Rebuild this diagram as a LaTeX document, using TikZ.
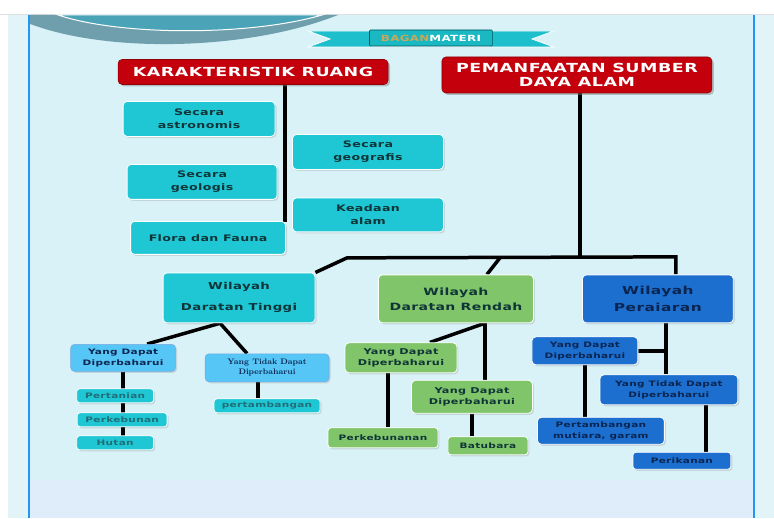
\documentclass[tikz,border=0pt]{standalone}
\usepackage{fontspec}
\newfontfamily\chartfont[FakeStretch=1.4,LetterSpace=4]{DejaVu Sans}
\usetikzlibrary{shadows,backgrounds}
\definecolor{outerbg}{HTML}{E2F4F8}
\definecolor{panelbg}{HTML}{D9F2F7}
\definecolor{bottombg}{HTML}{DFEDFA}
\definecolor{borderblue}{HTML}{2196F3}
\definecolor{chartred}{HTML}{C3000B}
\definecolor{chartcyan}{HTML}{1FC6D3}
\definecolor{chartgreen}{HTML}{80C56A}
\definecolor{chartblue}{HTML}{1C6FCE}
\definecolor{chartsky}{HTML}{56C6F6}
\definecolor{inkteal}{HTML}{103538}
\definecolor{inkblue}{HTML}{0B2550}
\definecolor{leafink}{HTML}{1F6E78}
\definecolor{arcgray}{HTML}{6F9FAC}
\definecolor{arcteal}{HTML}{4AA3B6}
\definecolor{bagangold}{HTML}{C9A85A}
\pgfdeclarelayer{lines}
\pgfsetlayers{background,lines,main}
\tikzset{
  boxsize/.style 2 args={minimum width=#1pt, minimum height=#2pt},
  softshadow/.style={drop shadow={shadow xshift=1.5pt, shadow yshift=-1.5pt, opacity=0.25}}
}

\begin{document}
\begin{tikzpicture}[x=1pt, y=-1pt,
    every node/.style={align=center, inner sep=0pt, rounded corners=4pt},
    redbox/.style={fill=chartred, draw=chartred!75!black, line width=0.6pt, text=white,
      drop shadow={shadow xshift=2pt, shadow yshift=-2pt, opacity=0.45},
      font=\chartfont\bfseries\fontsize{12.5}{14.5}\selectfont},
    cyanbox/.style={fill=chartcyan, draw=white, line width=0.8pt, text=inkteal, softshadow,
      font=\chartfont\bfseries\fontsize{9}{13}\selectfont},
    greenbox/.style={fill=chartgreen, draw=white, line width=0.8pt, text=inkteal, softshadow,
      font=\chartfont\bfseries\fontsize{8}{11}\selectfont},
    bluebox/.style={fill=chartblue, draw=white, line width=0.8pt, text=inkblue, softshadow,
      font=\chartfont\bfseries\fontsize{7.5}{11}\selectfont},
    skybox/.style={fill=chartsky, draw=chartblue!60, line width=0.6pt, text=inkblue, softshadow,
      font=\chartfont\bfseries\fontsize{7.5}{11}\selectfont},
    leaf/.style={font=\chartfont\bfseries\fontsize{7.5}{9}\selectfont, rounded corners=3pt},
    link/.style={line width=3.5pt, black},
]

% backdrop
\begin{pgfonlayer}{background}
\fill[outerbg] (0,0) rectangle (774,518);
\fill[white] (0,0) rectangle (774,14);
\fill[white] (0,14) rectangle (8,518);
\draw[gray!25] (0,14) -- (774,14);
\fill[panelbg] (29,15) rectangle (754,480);
\fill[bottombg] (29,480) rectangle (754,518);
\draw[borderblue, line width=2.5pt] (29,15) -- (29,518);
\draw[borderblue, line width=2.5pt] (754,15) -- (754,518);
% arcs
\fill[arcgray] (30,15) -- (30,24) .. controls (110,54) and (250,50) .. (338,15) -- cycle;
\fill[arcteal, draw=white, line width=1pt] (58,15) .. controls (120,36) and (250,36) .. (322,15) -- cycle;
% ribbon
\fill[chartcyan!90!teal, draw=white, line width=0.8pt] (308,31) -- (372,31) -- (372,47) -- (308,47) -- (330,39) -- cycle;
\fill[chartcyan!90!teal, draw=white, line width=0.8pt] (490,31) -- (554,31) -- (532,39) -- (554,47) -- (490,47) -- cycle;
\end{pgfonlayer}

\node[fill=chartcyan!80!teal, draw=teal!70!black, line width=0.6pt, rounded corners=1pt, boxsize={123}{16},
  font=\chartfont\bfseries\fontsize{8.5}{10}\selectfont] (banner) at (431,38)
  {\textcolor{bagangold}{BAGAN}\textcolor{white}{MATERI}};

% karakteristik ruang
\node[redbox, boxsize={270}{25}] (kr) at (253,72) {KARAKTERISTIK RUANG};
\node[cyanbox, boxsize={152}{35}] (astro) at (199,119) {Secara\\astronomis};
\node[cyanbox, boxsize={151}{35}] (geog) at (368,152) {Secara\\geografis};
\node[cyanbox, boxsize={150}{35}] (geol) at (202,182) {Secara\\geologis};
\node[cyanbox, boxsize={151}{34}] (keadaan) at (368,215) {Keadaan\\alam};
\node[cyanbox, boxsize={155}{33}] (flora) at (208,238) {Flora dan Fauna};

% pemanfaatan sumber daya alam
\node[redbox, boxsize={270}{36}] (psda) at (577,75) {PEMANFAATAN SUMBER\\DAYA ALAM};

% wilayah
\node[cyanbox, boxsize={152}{50}, font=\chartfont\bfseries\fontsize{9.5}{21}\selectfont] (tinggi) at (239,298) {Wilayah\\Daratan Tinggi};
\node[greenbox, boxsize={155}{48}, font=\chartfont\bfseries\fontsize{10}{15}\selectfont] (rendah) at (456,299) {Wilayah\\Daratan Rendah};
\node[bluebox, boxsize={151}{48}, font=\chartfont\bfseries\fontsize{11}{17}\selectfont] (perairan) at (658,299) {Wilayah\\Peraiaran};

% daratan tinggi
\node[skybox, boxsize={105}{27}] (tDapat) at (123,358) {Yang Dapat\\Diperbaharui};
\node[skybox, boxsize={124}{28}, font=\bfseries\fontsize{8}{10}\selectfont] (tTidak) at (267,368) {Yang Tidak Dapat\\Diperbaharui};
\node[cyanbox, leaf, text=leafink, boxsize={106}{14}] (tambangT) at (267,406) {pertambangan};
\node[cyanbox, leaf, text=leafink, boxsize={77}{14}] (pertanian) at (115,396) {Pertanian};
\node[cyanbox, leaf, text=leafink, boxsize={90}{14}] (perkebunan) at (122,420) {Perkebunan};
\node[cyanbox, leaf, text=leafink, boxsize={77}{14}] (hutan) at (115,443) {Hutan};

% daratan rendah
\node[greenbox, boxsize={112}{30}] (rDapatA) at (401,358) {Yang Dapat\\Diperbaharui};
\node[greenbox, boxsize={121}{33}] (rDapatB) at (472,397) {Yang Dapat\\Diperbaharui};
\node[greenbox, leaf, boxsize={110}{20}] (kebunR) at (383,438) {Perkebunanan};
\node[greenbox, leaf, boxsize={80}{18}] (batubara) at (488,446) {Batubara};

% perairan
\node[bluebox, boxsize={106}{28}] (pDapat) at (585,351) {Yang Dapat\\Diperbaharui};
\node[bluebox, boxsize={138}{30}] (pTidak) at (669,390) {Yang Tidak Dapat\\Diperbaharui};
\node[bluebox, boxsize={127}{27}] (mutiara) at (601,431) {Pertambangan\\mutiara, garam};
\node[bluebox, leaf, boxsize={98}{17}] (perikanan) at (682,461) {Perikanan};

% connectors
\coordinate (krEnd) at (285,222);
\coordinate (jL) at (347,258);
\coordinate (jM) at (500,258);
\coordinate (jR) at (676,257);
\coordinate (tFork) at ([xshift=-19pt]tinggi.south);
\coordinate (rFork) at ([xshift=29pt]rendah.south);
\coordinate (pFork) at ([xshift=8pt]perairan.south);
\begin{pgfonlayer}{lines}
\draw[link] (kr.south -| krEnd) -- (krEnd);
\draw[link] (psda.south -| 580,0) -- (580,258);
\draw[link] (tinggi.north east) -- (jL) -- (jR) -- (perairan.north -| jR);
\draw[link] (jM) -- ([xshift=31pt]rendah.north);
% tinggi
\draw[link] (tFork) -- ([xshift=24pt]tDapat.north);
\draw[link] (tFork) -- ([xshift=-20pt]tTidak.north);
\draw[link] (tDapat.south) -- (tDapat.south |- hutan.south);
\draw[link] ([xshift=-9pt]tTidak.south) -- ([xshift=-9pt]tambangT.north);
% rendah
\draw[link] (rFork) -- ([xshift=29pt]rDapatA.north);
\draw[link] (rFork) -- (rFork |- rDapatB.north);
\draw[link] ([xshift=-13pt]rDapatA.south) -- ([xshift=-13pt]rDapatA.south |- kebunR.north);
\draw[link] (rDapatB.south) -- (rDapatB.south |- batubara.north);
% perairan
\draw[link] (pFork) -- (pFork |- pTidak.north);
\draw[link] (pDapat.east) -- (pDapat.east -| pFork);
\draw[link] (pDapat.south) -- (pDapat.south |- mutiara.north);
\draw[link] ([xshift=37pt]pTidak.south) -- ([xshift=37pt]pTidak.south |- perikanan.north);
\end{pgfonlayer}

\end{tikzpicture}
\end{document}
